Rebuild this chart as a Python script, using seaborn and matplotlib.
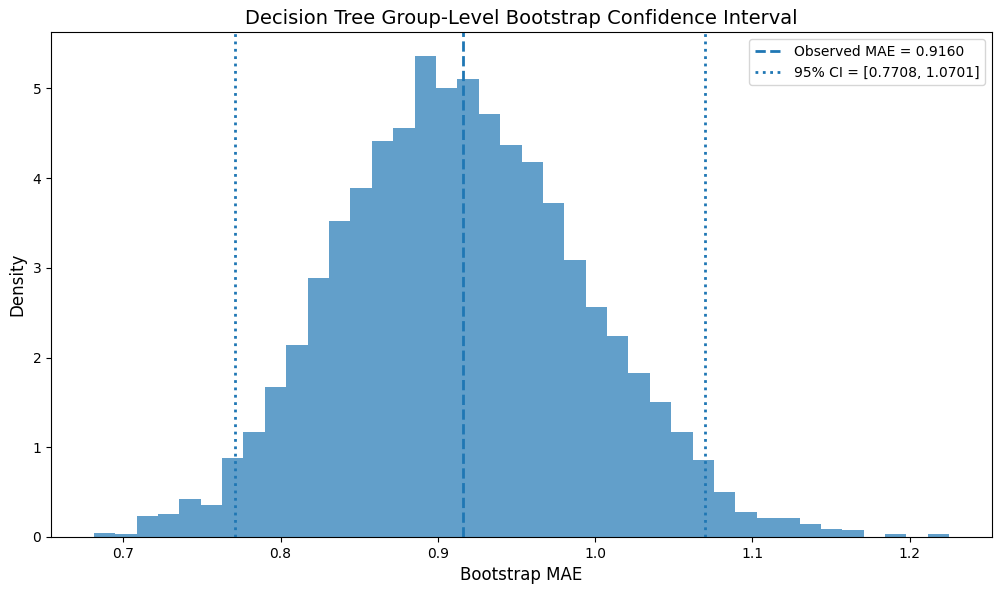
import numpy as np
import pandas as pd
import matplotlib
matplotlib.use("Agg")
import matplotlib.pyplot as plt
import seaborn as sns

# ---- data ----
bin_low = 0.6812
bin_high = 1.2251
n_bins = 40
densities = [0.045, 0.034, 0.237, 0.252, 0.429, 0.354, 0.885, 1.168, 1.669, 2.143,
             2.889, 3.525, 3.891, 4.414, 4.554, 5.360, 5.009, 5.100, 4.712, 4.365,
             4.181, 3.718, 3.085, 2.561, 2.245, 1.823, 1.507, 1.168, 0.863, 0.501,
             0.275, 0.207, 0.207, 0.147, 0.094, 0.079, 0.0, 0.034, 0.0, 0.034]
observed_mae = 0.9160
ci_low = 0.7708
ci_high = 1.0701

edges = np.linspace(bin_low, bin_high, n_bins + 1)
centers = (edges[:-1] + edges[1:]) / 2
df = pd.DataFrame({"mae": centers, "density": densities})

fig = plt.figure(figsize=(10.01, 5.94), dpi=100)
ax = fig.add_axes([51 / 1001, 1 - 537 / 594, 941 / 1001, 505 / 594])

sns.histplot(data=df, x="mae", weights="density", bins=n_bins,
             binrange=(bin_low, bin_high), stat="count",
             color="#1f77b4", alpha=0.7, linewidth=0, ax=ax)

ax.axvline(observed_mae, color="#1f77b4", linestyle="--", linewidth=2,
           label=f"Observed MAE = {observed_mae:.4f}")
ax.axvline(ci_low, color="#1f77b4", linestyle=":", linewidth=2,
           label=f"95% CI = [{ci_low:.4f}, {ci_high:.4f}]")
ax.axvline(ci_high, color="#1f77b4", linestyle=":", linewidth=2)

ax.set_title("Decision Tree Group-Level Bootstrap Confidence Interval", fontsize=14)
ax.set_xlabel("Bootstrap MAE", fontsize=12)
ax.set_ylabel("Density", fontsize=12)
ax.legend(loc="upper right")

fig.savefig("out.png", dpi=100)
